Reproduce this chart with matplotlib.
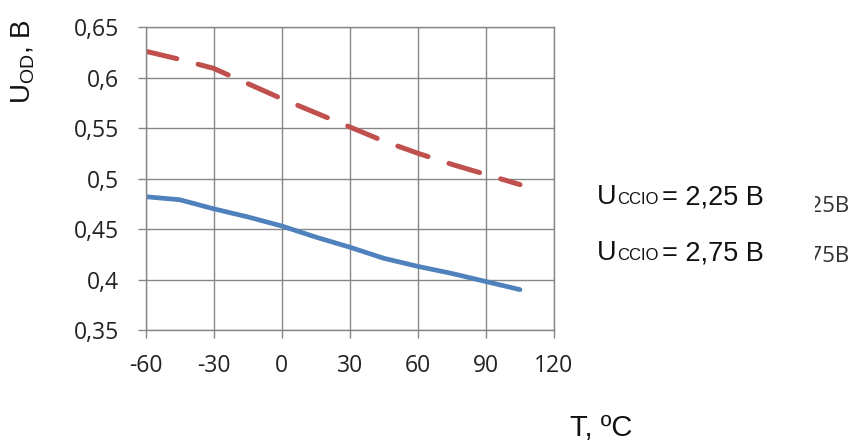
import matplotlib.pyplot as plt
from matplotlib.patches import Rectangle

plt.rcParams['mathtext.fontset'] = 'custom'
plt.rcParams['mathtext.rm'] = 'Liberation Sans'
plt.rcParams['axes.unicode_minus'] = False

temps = [-60, -45, -30, -15, 0, 15, 30, 45, 60, 75, 90, 105]
u_225 = [0.482, 0.479, 0.470, 0.462, 0.453, 0.442, 0.432, 0.421, 0.413, 0.406, 0.398, 0.390]
u_275 = [0.626, 0.618, 0.609, 0.594, 0.579, 0.565, 0.551, 0.537, 0.525, 0.514, 0.504, 0.494]

x_ticks = [-60, -30, 0, 30, 60, 90, 120]
y_ticks = [0.35, 0.4, 0.45, 0.5, 0.55, 0.6, 0.65]
y_ticklabels = ['0,35', '0,4', '0,45', '0,5', '0,55', '0,6', '0,65']

blue = '#4F81BD'
red = '#C0504D'
gridc = '#878787'

fig = plt.figure(figsize=(8.55, 4.43), dpi=100)
ax = fig.add_axes([0.1704, 0.255, 0.4776, 0.684])

ax.plot(temps, u_225, color=blue, lw=3.4, solid_capstyle='round')
ax.plot(temps, u_275, color=red, lw=3.6, dashes=(6.4, 4.4), dash_capstyle='round')

ax.set_xlim(-60, 120)
ax.set_ylim(0.35, 0.65)
ax.set_xticks(x_ticks)
ax.set_yticks(y_ticks)
ax.set_yticklabels(y_ticklabels)
ax.grid(True, color=gridc, lw=1)
ax.set_axisbelow(True)
for s in ax.spines.values():
    s.set_color(gridc)
    s.set_linewidth(1)
ax.tick_params(axis='both', colors=gridc, length=6, width=1, labelcolor='#222222',
               labelsize=16.5)
ax.tick_params(axis='y', pad=13)
ax.tick_params(axis='x', pad=11)
for lab in ax.get_xticklabels() + ax.get_yticklabels():
    lab.set_family('Open Sans')

# axis titles
fig.text(23 / 855, 1 - 62 / 443, r'U$_{\rm OD}$, B', rotation=90, ha='center', va='center',
         fontsize=20, family='Liberation Sans', color='#111111')
fig.text(570 / 855, 1 - 428 / 443, 'T, ºC', ha='left', va='center',
         fontsize=21, family='Liberation Sans', color='#111111')

# legend-like labels
legend_labels = ['2,25', '2,75']
legend_y = [197, 253]
cut_y = [212, 262]
for val, yp, yc in zip(legend_labels, legend_y, cut_y):
    yf = 1 - yp / 443
    fig.text(597 / 855, yf, 'U', ha='left', va='center', fontsize=19.5,
             family='Liberation Sans', color='#111111')
    fig.text(617 / 855, yf - 0.005, 'CCIO', ha='left', va='center', fontsize=12,
             family='Liberation Sans', color='#111111')
    fig.text(662 / 855, yf, '= ' + val + ' B', ha='left', va='center', fontsize=19.5,
             family='Liberation Sans', color='#111111')
    fig.text(850 / 855, 1 - yc / 443, val + 'B', ha='right', va='baseline', fontsize=16,
             family='Open Sans', color='#333333')

fig.patches.append(Rectangle((770 / 855, 0.3), 45 / 855, 0.4, transform=fig.transFigure,
                             facecolor='white', edgecolor='none', zorder=10))

fig.savefig('out.png', dpi=100)
